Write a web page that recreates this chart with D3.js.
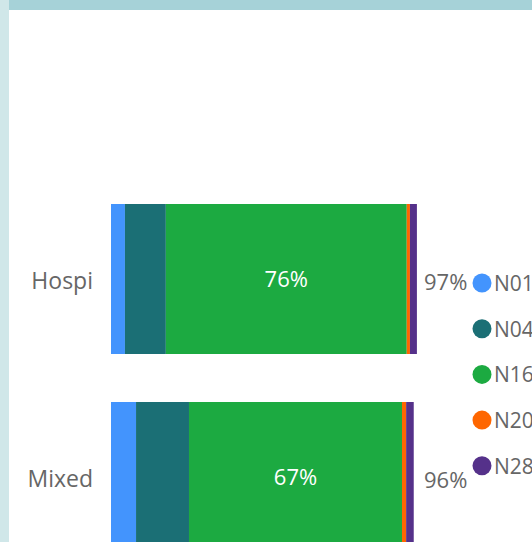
<!DOCTYPE html>
<html>
<head>
<meta charset="utf-8">
<script src="https://cdn.jsdelivr.net/npm/d3@7"></script>
<style>
  html, body { margin: 0; padding: 0; background: #fff; }
  svg { display: block; font-family: "Open Sans", "Noto Sans", sans-serif; }
</style>
</head>
<body>
<svg id="chart" width="532" height="542"></svg>
<script>
const categories = ["Hospi", "Mixed"];
const seriesNames = ["N01", "N04", "N16", "N20", "N28"];
const seriesColors = ["#4394FD", "#1B6F75", "#1CAA41", "#FE6600", "#55318A"];
const N01 = [4.4, 7.9];
const N04 = [12.9, 16.7];
const N16 = [76.0, 67.2];
const N20 = [1.0, 1.3];
const N28 = [2.2, 2.4];
const totalLabels = ["97%", "96%"];

const seriesValues = [N01, N04, N16, N20, N28];
const svg = d3.select("#chart");
const W = 532, H = 542;

// frame
svg.append("rect").attr("x", 0).attr("y", 0).attr("width", 9).attr("height", H).attr("fill", "#d0e7e9");
svg.append("rect").attr("x", 9).attr("y", 0).attr("width", W - 9).attr("height", 10).attr("fill", "#a6d2d8");

const x = d3.scaleLinear().domain([0, 100]).range([111, 428]);
const y = d3.scaleBand().domain(categories).range([204, 552]).paddingInner(48 / 198).paddingOuter(0);

const rows = categories.map((c, i) => {
  const r = { cat: c };
  seriesNames.forEach((s, j) => r[s] = seriesValues[j][i]);
  return r;
});
const stack = d3.stack().keys(seriesNames)(rows);

const g = svg.append("g");
stack.forEach((layer, j) => {
  g.selectAll(null).data(layer).enter().append("rect")
    .attr("x", d => x(d[0]))
    .attr("y", d => y(d.data.cat))
    .attr("width", d => x(d[1]) - x(d[0]))
    .attr("height", y.bandwidth())
    .attr("fill", seriesColors[j]);
});

// data labels on the large segment
const big = stack[2];
g.selectAll(null).data(big).enter().append("text")
  .attr("x", d => (x(d[0]) + x(d[1])) / 2)
  .attr("y", d => y(d.data.cat) + y.bandwidth() / 2 + 8)
  .attr("text-anchor", "middle")
  .attr("font-size", 22)
  .attr("fill", "#ffffff")
  .text(d => Math.round(d[1] - d[0]) + "%");

// category labels
g.selectAll(null).data(categories).enter().append("text")
  .attr("x", 93)
  .attr("y", d => y(d) + y.bandwidth() / 2 + 10)
  .attr("text-anchor", "end")
  .attr("font-size", 23)
  .attr("fill", "#666666")
  .text(d => d);

// total labels
g.selectAll(null).data(categories).enter().append("text")
  .attr("x", 424)
  .attr("y", d => y(d) + y.bandwidth() / 2 + 11)
  .attr("font-size", 22)
  .attr("fill", "#666666")
  .text((d, i) => totalLabels[i]);

// legend
const leg = svg.append("g");
seriesNames.forEach((s, j) => {
  const cy = 283 + j * 45.7;
  leg.append("circle").attr("cx", 482).attr("cy", cy).attr("r", 9.5).attr("fill", seriesColors[j]);
  leg.append("text").attr("x", 494).attr("y", cy + 8).attr("font-size", 21)
    .attr("fill", "#666666").text(s);
});
</script>
</body>
</html>
